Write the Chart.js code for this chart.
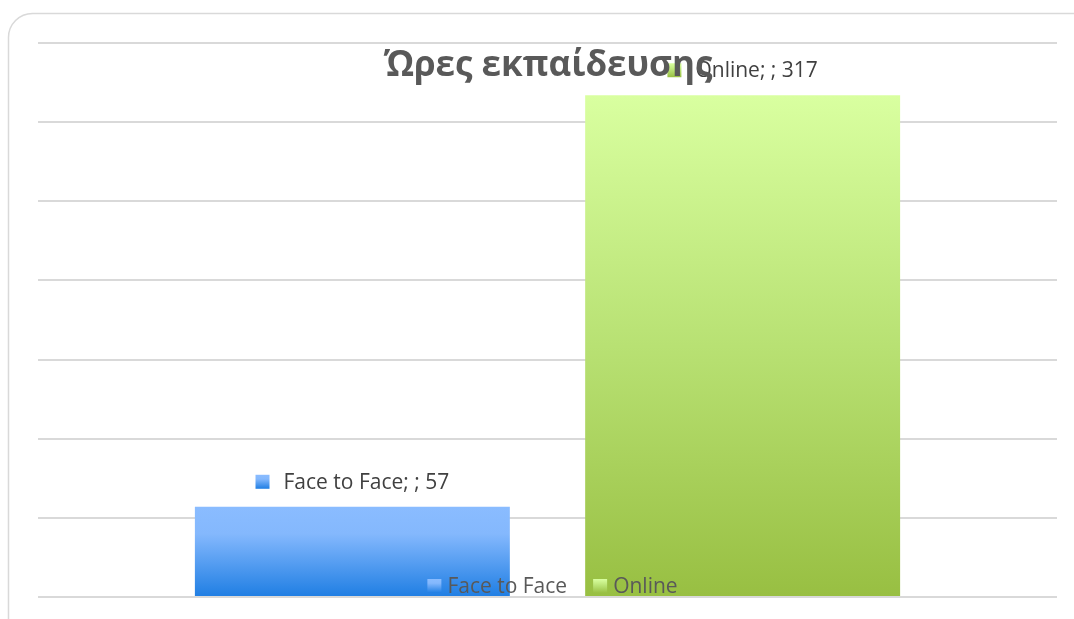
<!DOCTYPE html>
<html>
<head>
<meta charset="utf-8">
<script src="https://cdn.jsdelivr.net/npm/chart.js@4.4.0/dist/chart.umd.min.js"></script>
<style>
  html, body { margin: 0; padding: 0; background: #ffffff; }
  #wrap { width: 1074px; height: 619px; position: relative; }
</style>
</head>
<body>
<div id="wrap"><canvas id="c" width="1074" height="619"></canvas></div>
<script>
const chartTitle = 'Ώρες εκπαίδευσης';
const categories = [''];
const seriesNames = ['Face to Face', 'Online'];
const faceToFace = [57];
const online = [317];
const yTicks = [0, 50, 100, 150, 200, 250, 300, 350];

const FONT = '"Open Sans", "Liberation Sans", sans-serif';
const gradStops = [
  [[0, '#8abcff'], [0.3, '#84b8fd'], [1, '#1f7ee3']],
  [[0, '#d9ffa0'], [0.5, '#b8e173'], [1, '#98bf42']]
];

function barGradient(ctx, top, bottom, idx) {
  const g = ctx.createLinearGradient(0, top, 0, bottom);
  gradStops[idx].forEach(s => g.addColorStop(s[0], s[1]));
  return g;
}

function scriptBg(idx) {
  return function (context) {
    const chart = context.chart;
    const area = chart.chartArea;
    if (!area) return gradStops[idx][0][1];
    const y = chart.scales.y;
    const v = context.raw;
    const top = y.getPixelForValue(v);
    const bottom = y.getPixelForValue(0);
    return barGradient(chart.ctx, top, bottom, idx);
  };
}

const framePlugin = {
  id: 'frame',
  beforeDraw(chart) {
    const ctx = chart.ctx;
    ctx.save();
    ctx.strokeStyle = '#d9d9d9';
    ctx.lineWidth = 1.5;
    ctx.beginPath();
    ctx.roundRect(8.5, 13.5, 1120, 680, 24);
    ctx.stroke();
    ctx.restore();
  }
};

function drawKey(ctx, x, y, size, idx) {
  ctx.fillStyle = barGradient(ctx, y, y + size, idx);
  ctx.fillRect(x, y, size, size);
}

const labelPlugin = {
  id: 'barLabels',
  afterDatasetsDraw(chart) {
    const ctx = chart.ctx;
    ctx.save();
    ctx.font = '21px ' + FONT;
    ctx.textBaseline = 'middle';
    chart.data.datasets.forEach((ds, i) => {
      const meta = chart.getDatasetMeta(i);
      meta.data.forEach((bar, j) => {
        const text = ds.label + '; ' + categories[j] + '; ' + ds.data[j];
        const keySize = 14;
        const gap = 14;
        const tw = ctx.measureText(text).width;
        const total = keySize + gap + tw;
        const x0 = bar.x - total / 2;
        const cy = bar.y - 25;
        drawKey(ctx, x0, cy - keySize / 2, keySize, i);
        ctx.fillStyle = '#404040';
        ctx.textAlign = 'left';
        ctx.fillText(text, x0 + keySize + gap, cy + 1);
      });
    });
    ctx.restore();
  }
};

const overlayPlugin = {
  id: 'overlay',
  afterDraw(chart) {
    const ctx = chart.ctx;
    const area = chart.chartArea;
    ctx.save();
    // title
    ctx.font = 'bold 35px ' + FONT;
    ctx.fillStyle = '#595959';
    ctx.textAlign = 'center';
    ctx.textBaseline = 'alphabetic';
    ctx.fillText(chartTitle, 548, 76);
    // legend
    ctx.font = '21px ' + FONT;
    ctx.textBaseline = 'middle';
    ctx.textAlign = 'left';
    const keySize = 14, gap = 6, between = 26;
    const widths = seriesNames.map(n => keySize + gap + ctx.measureText(n).width);
    const total = widths.reduce((a, b) => a + b, 0) + between * (seriesNames.length - 1);
    let x = (area.left + area.right) / 2 + 5 - total / 2;
    const cy = 586;
    seriesNames.forEach((n, i) => {
      drawKey(ctx, x, cy - keySize / 2, keySize, i);
      ctx.fillStyle = '#595959';
      ctx.fillText(n, x + keySize + gap, cy + 1);
      x += widths[i] + between;
    });
    ctx.restore();
  }
};

new Chart(document.getElementById('c'), {
  type: 'bar',
  data: {
    labels: categories,
    datasets: [
      { label: seriesNames[0], data: faceToFace, backgroundColor: scriptBg(0), borderWidth: 0 },
      { label: seriesNames[1], data: online, backgroundColor: scriptBg(1), borderWidth: 0 }
    ]
  },
  options: {
    responsive: false,
    animation: false,
    devicePixelRatio: 1,
    layout: { padding: { left: 38, right: 17, top: 43, bottom: 22 } },
    categoryPercentage: 0.766,
    barPercentage: 0.807,
    plugins: {
      legend: { display: false },
      title: { display: false },
      tooltip: { enabled: false }
    },
    scales: {
      x: { display: false },
      y: {
        min: yTicks[0],
        max: yTicks[yTicks.length - 1],
        afterBuildTicks(axis) { axis.ticks = yTicks.map(v => ({ value: v })); },
        ticks: { display: false },
        border: { display: false },
        grid: { color: '#d9d9d9', lineWidth: 2, drawTicks: false }
      }
    }
  },
  plugins: [framePlugin, labelPlugin, overlayPlugin]
});
</script>
</body>
</html>
